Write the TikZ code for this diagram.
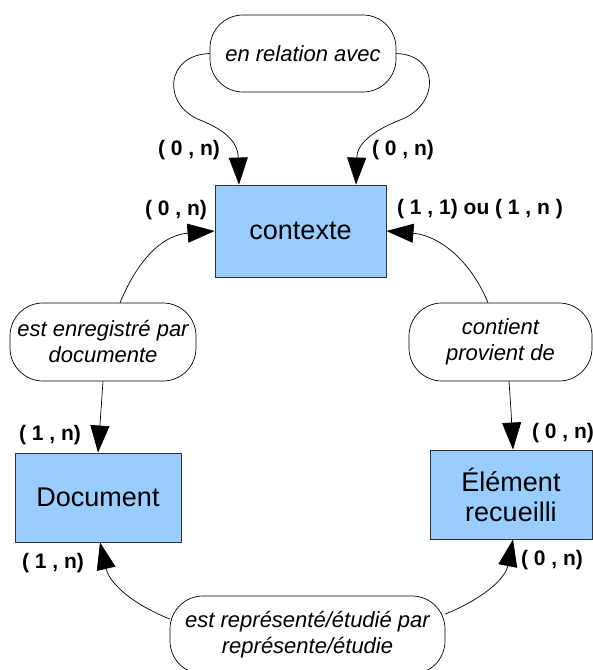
\documentclass[tikz,border=0pt]{standalone}
\usepackage{fontspec}
\setmainfont{Liberation Sans}
\usetikzlibrary{arrows.meta}
\definecolor{boxblue}{RGB}{153,204,255}
\begin{document}
\begin{tikzpicture}[x=1pt,y=-1pt,
  entity/.style={draw=black!80, fill=boxblue, line width=0.9pt, inner sep=0pt, align=center,
    font=\fontsize{27}{30}\selectfont},
  rel/.style={draw=black, line width=0.7pt, rounded corners=33pt, fill=white, inner sep=0pt, align=center,
    font=\itshape\fontsize{22}{26}\selectfont},
  card/.style={font=\bfseries\fontsize{21}{24}\selectfont, inner sep=0pt},
  conn/.style={-{Triangle[length=27pt,width=19pt]}, line width=0.7pt}]
\useasboundingbox (0,0) rectangle (593,670);
\clip (0,0) rectangle (593,670);

% entities
\node[entity, minimum width=171pt, minimum height=92pt] (ctx) at (300.5,231) {contexte};
\node[entity, minimum width=166pt, minimum height=89pt] (doc) at (98,497.5) {Document};
\node[entity, minimum width=162pt, minimum height=89pt] (elt) at (511,494.5) {Élément\\recueilli};

% relations
\node[rel, minimum width=186pt, minimum height=77pt] (r1) at (303,53.5) {en relation avec};
\node[rel, minimum width=186pt, minimum height=78pt] (r2) at (103,342) {est enregistré par\\documente};
\node[rel, minimum width=183pt, minimum height=78pt] (r3) at (500.5,342) {contient\\provient de};
\node[rel, minimum width=275pt, minimum height=78pt] (r4) at (307.5,635) {est représenté/étudié par\\représente/étudie};

% connectors
\draw[conn] (r1.west) .. controls (165,55) and (162,105) .. (200,120)
  .. controls (230,132) and (238,145) .. (239,0 |- ctx.north);
\draw[conn] (r1.east) .. controls (440,55) and (440,105) .. (400,120)
  .. controls (370,132) and (357,145) .. (356,0 |- ctx.north);
\draw[conn] (120,0 |- r2.north) .. controls (140,255) and (165,235) .. (ctx.west);
\draw[conn] (488,0 |- r3.north) .. controls (468,255) and (435,235) .. (ctx.east);
\draw[conn] (103,0 |- r2.south) .. controls (101,410) .. (98,0 |- doc.north);
\draw[conn] (509,0 |- r3.south) .. controls (511,410) .. (513,0 |- elt.north);
\draw[conn] (r4.west |- 0,619) .. controls (135,605) and (110,585) .. (100,0 |- doc.south);
\draw[conn] (r4.east |- 0,614) .. controls (480,600) and (505,580) .. (513,0 |- elt.south);

% cardinalities
\node[card] (c1) at (189,150) {( 0 , n)};
\node[card] (c2) at (403,150) {( 0 , n)};
\node[card] (c3) at (176,210) {( 0 , n)};
\node[card] (c4) at (480,209) {( 1 , 1) ou ( 1 , n )};
\node[card] (c5) at (50,435) {( 1 , n)};
\node[card] (c6) at (563,433) {( 0 , n)};
\node[card] (c7) at (53,563) {( 1 , n)};
\node[card] (c8) at (552,560) {( 0 , n)};
\end{tikzpicture}
\end{document}
